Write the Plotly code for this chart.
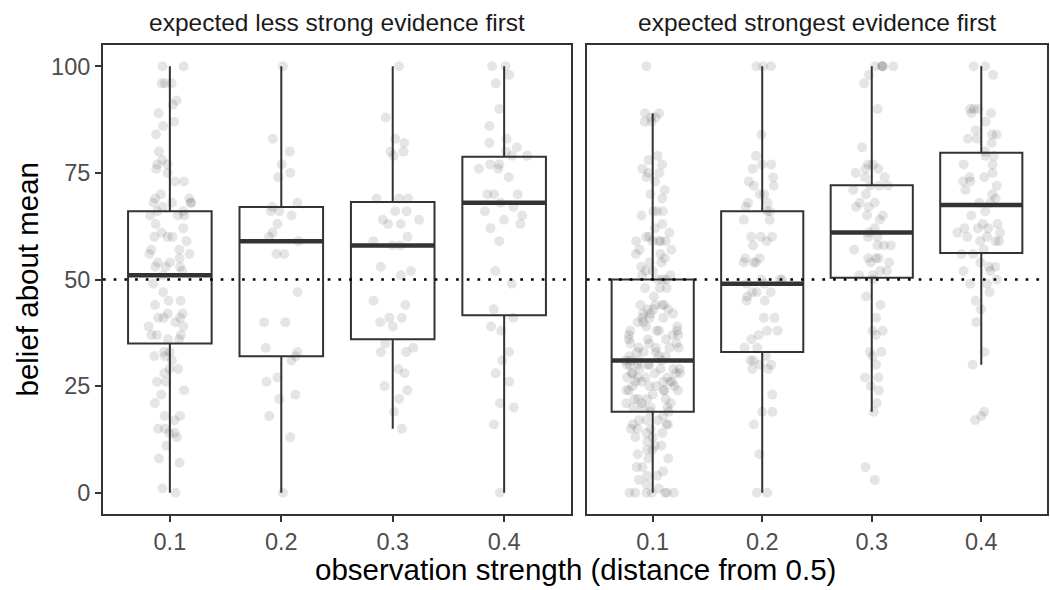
import plotly.graph_objects as go
from plotly.subplots import make_subplots

# ---------------- data ----------------
STRENGTHS = ["0.1", "0.2", "0.3", "0.4"]
PANEL_TITLES = ["expected less strong evidence first", "expected strongest evidence first"]
Y_TICKS = [0, 25, 50, 75, 100]
REFERENCE_BELIEF = 50
X_TITLE = "observation strength (distance from 0.5)"
Y_TITLE = "belief about mean"

# box summaries
less_q1 = [35, 32, 36, 41.6]
less_median = [51, 59, 58, 68]
less_q3 = [66, 67, 68.2, 78.8]
less_low = [0, 0, 15, 0]
less_high = [100, 100, 100, 100]

strong_q1 = [19, 33, 50.4, 56.2]
strong_median = [31, 49, 61, 67.5]
strong_q3 = [50, 66, 72.1, 79.7]
strong_low = [0, 0, 19, 30]
strong_high = [89, 100, 100, 100]

# individual responses (estimated from the jittered points)
less_01 = [100, 100, 96, 96, 96, 92, 91, 89, 87, 86, 84, 80, 78, 77, 77, 76, 75, 73, 73, 70,
           69, 69, 68, 68, 68, 68, 67, 66, 66, 65, 65, 65, 63, 62, 61, 60, 60, 60, 59, 57,
           57, 56, 56, 55, 54, 54, 53, 53, 53, 52, 51, 49, 47, 45, 45, 44, 42, 42, 41, 41,
           41, 40, 39, 39, 37, 37, 37, 36, 36, 33, 33, 32, 32, 31, 29, 29, 28, 26, 26, 24,
           23, 21, 18, 18, 17, 15, 15, 14, 14, 13, 11, 8, 7, 1, 0]
less_02 = [100, 83, 80, 77, 75, 74, 68, 67, 66, 66, 65, 63, 61, 60, 59, 56, 56, 47, 40, 40,
           34, 33, 32, 31, 27, 26, 23, 22, 18, 13, 0]
less_03 = [100, 88, 83, 82, 80, 80, 79, 69, 69, 69, 66, 66, 64, 64, 63, 63, 60, 59, 58, 58,
           53, 52, 51, 45, 44, 41, 41, 40, 39, 35, 34, 33, 33, 29, 28, 25, 24, 22, 19, 15]
less_04 = [100, 100, 98, 96, 90, 86, 83, 82, 81, 80, 79, 79, 77, 77, 76, 76, 74, 70, 70, 70,
           68, 67, 66, 65, 64, 63, 62, 59, 52, 49, 43, 41, 39, 38, 33, 31, 28, 26, 21, 20,
           16, 0]

strong_01 = [100, 89, 89, 88, 88, 87, 87, 79, 78, 77, 76, 75, 75, 74, 73, 71, 70, 69, 66, 66,
             66, 65, 63, 62, 61, 60, 60, 59, 59, 59, 59, 59, 57, 57, 56, 56, 55, 54, 54, 53,
             52, 52, 51, 51, 50, 50, 50, 48, 48, 48, 46, 44, 44, 44, 44, 43, 43, 43, 42, 42,
             42, 41, 41, 41, 40, 40, 39, 39, 38, 38, 38, 38, 37, 37, 37, 36, 36, 36, 35, 35,
             35, 34, 34, 34, 34, 33, 33, 33, 32, 32, 32, 31, 31, 31, 31, 30, 30, 30, 30, 30,
             29, 29, 29, 29, 28, 28, 28, 28, 28, 27, 27, 27, 27, 26, 26, 26, 26, 26, 25, 25,
             25, 25, 24, 24, 24, 24, 24, 23, 22, 22, 22, 22, 21, 21, 21, 20, 20, 20, 20, 19,
             19, 18, 17, 17, 17, 16, 16, 16, 15, 15, 15, 14, 14, 13, 13, 12, 11, 11, 10, 10,
             9, 8, 8, 6, 6, 5, 4, 4, 3, 2, 1, 0, 0, 0, 0, 0, 0, 0]
strong_02 = [100, 100, 100, 84, 79, 77, 77, 76, 74, 73, 72, 72, 70, 70, 68, 68, 67, 66, 66, 64,
             64, 60, 60, 60, 59, 58, 55, 55, 54, 54, 54, 50, 50, 50, 49, 49, 47, 47, 47, 46,
             45, 45, 41, 41, 38, 38, 37, 36, 34, 34, 32, 31, 31, 30, 30, 29, 29, 23, 19, 19,
             16, 9, 0, 0]
strong_03 = [100, 100, 100, 100, 100, 98, 96, 90, 81, 77, 77, 76, 76, 75, 74, 74, 72, 72, 72, 71,
             70, 68, 68, 67, 67, 65, 65, 64, 62, 61, 60, 60, 58, 58, 58, 57, 55, 55, 55, 54,
             54, 52, 52, 51, 51, 50, 46, 44, 41, 38, 38, 37, 33, 33, 32, 30, 27, 27, 25, 24,
             21, 19, 6, 3]
strong_04 = [100, 100, 98, 90, 90, 90, 89, 89, 87, 85, 84, 84, 83, 83, 82, 80, 79, 79, 77, 77,
             75, 74, 74, 73, 73, 72, 71, 70, 69, 68, 68, 66, 65, 63, 63, 62, 62, 62, 61, 61,
             60, 60, 59, 59, 59, 57, 56, 56, 54, 53, 53, 52, 52, 50, 49, 49, 47, 45, 43, 40,
             33, 30, 19, 18, 17]

# ---------------- style ----------------
FONT = "Liberation Sans, Arial, sans-serif"
LINE = "#333333"
W, H = 1050, 590
ML, MR, MT, MB = 103, 1, 45, 76
plot_w = W - ML - MR
left_dom = [0, 469 / plot_w]
right_dom = [485 / plot_w, 1]

fig = make_subplots(rows=1, cols=2, shared_yaxes=True)

panels = [
    ([less_01, less_02, less_03, less_04], less_q1, less_median, less_q3, less_low, less_high),
    ([strong_01, strong_02, strong_03, strong_04], strong_q1, strong_median, strong_q3, strong_low, strong_high),
]

for ci, (groups, q1, med, q3, lo, hi) in enumerate(panels, start=1):
    xs, ys = [], []
    for cat, vals in zip(STRENGTHS, groups):
        xs += [cat] * len(vals)
        ys += vals
    # jittered points (box itself invisible)
    fig.add_trace(go.Box(
        x=xs, y=ys, boxpoints="all", jitter=1, pointpos=0, width=0.5,
        line=dict(width=0, color="rgba(0,0,0,0)"), fillcolor="rgba(0,0,0,0)",
        marker=dict(color="rgba(0,0,0,0.1)", size=10, line=dict(width=0)),
        showlegend=False, hoverinfo="y"), row=1, col=ci)
    # box and whiskers
    fig.add_trace(go.Box(
        x=STRENGTHS, q1=q1, median=med, q3=q3, lowerfence=lo, upperfence=hi,
        width=0.75, whiskerwidth=0, fillcolor="rgba(0,0,0,0)",
        line=dict(color=LINE, width=2), showlegend=False), row=1, col=ci)
    # thick median line
    fig.add_trace(go.Box(
        x=STRENGTHS, q1=med, median=med, q3=med, lowerfence=med, upperfence=med,
        width=0.75, whiskerwidth=0, fillcolor="rgba(0,0,0,0)",
        line=dict(color=LINE, width=4.5), showlegend=False), row=1, col=ci)
    fig.add_hline(y=REFERENCE_BELIEF, line=dict(color="black", width=2.6, dash="2.7px,8px"),
                  row=1, col=ci)

axis_common = dict(showline=True, mirror=True, linecolor=LINE, linewidth=2,
                   showgrid=False, zeroline=False, ticks="outside", ticklen=6,
                   tickwidth=2, tickcolor=LINE,
                   tickfont=dict(family=FONT, size=23.5, color="#4d4d4d"))

fig.update_xaxes(type="category", categoryorder="array", categoryarray=STRENGTHS,
                 range=[-0.6, 3.6], **axis_common)
fig.update_yaxes(range=[-5, 105], tickvals=Y_TICKS, **axis_common)
fig.update_layout(
    xaxis=dict(domain=left_dom),
    xaxis2=dict(domain=right_dom),
    yaxis2=dict(showticklabels=False, ticks=""),
)

annotations = []
for dom, title in zip([left_dom, right_dom], PANEL_TITLES):
    annotations.append(dict(text=title, x=(dom[0] + dom[1]) / 2, y=1, xref="paper", yref="paper",
                            xanchor="center", yanchor="middle", yshift=23, showarrow=False,
                            font=dict(family=FONT, size=24.5, color="#1a1a1a")))
annotations.append(dict(text=X_TITLE, x=0.5, y=0, xref="paper", yref="paper",
                        xanchor="center", yanchor="middle", yshift=-55, showarrow=False,
                        font=dict(family=FONT, size=29.5, color="black")))
annotations.append(dict(text=Y_TITLE, x=0, y=0.5, xref="paper", yref="paper", textangle=-90,
                        xanchor="center", yanchor="middle", xshift=-76, showarrow=False,
                        font=dict(family=FONT, size=29.5, color="black")))

fig.update_layout(
    width=W, height=H, boxmode="overlay",
    margin=dict(l=ML, r=MR, t=MT, b=MB),
    paper_bgcolor="white", plot_bgcolor="white",
    font=dict(family=FONT),
    annotations=list(fig.layout.annotations) + annotations,
)

fig.write_html("out.html", config={"displayModeBar": False},
               post_script="document.body.style.margin='0';document.body.style.overflow='hidden';")
